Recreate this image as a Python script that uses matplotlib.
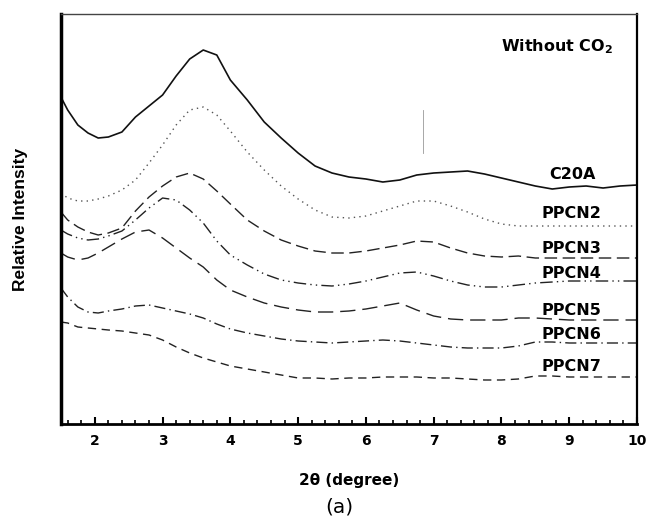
import matplotlib
matplotlib.use("Agg")
import matplotlib.pyplot as plt
from matplotlib.ticker import MultipleLocator

# 2-theta grid shared by all patterns
two_theta = [1.5, 1.6, 1.75, 1.9, 2.05, 2.2, 2.4, 2.6, 2.8, 3.0,
             3.2, 3.4, 3.6, 3.8, 4.0, 4.25, 4.5, 4.75, 5.0, 5.25,
             5.5, 5.75, 6.0, 6.25, 6.5, 6.75, 7.0, 7.25, 7.5, 7.75,
             8.0, 8.25, 8.5, 8.75, 9.0, 9.25, 9.5, 9.75, 10.0]

# stacked intensities (arbitrary units, offset per sample)
c20a = [327, 314, 299, 291, 286, 287, 292, 307, 318, 329,
        348, 365, 374, 369, 344, 324, 302, 286, 271, 258,
        251, 247, 245, 242, 244, 249, 251, 252, 253, 250,
        246, 242, 238, 235, 237, 238, 236, 238, 239]
ppcn2 = [231, 226, 223, 223, 225, 228, 234, 244, 261, 279,
         299, 314, 317, 309, 293, 272, 254, 238, 225, 214,
         207, 206, 208, 213, 218, 223, 223, 218, 212, 205,
         200, 198, 198, 198, 198, 198, 198, 198, 198]
ppcn3 = [212, 204, 197, 192, 189, 191, 196, 213, 227, 238,
         247, 251, 245, 233, 220, 204, 193, 184, 178, 173,
         171, 171, 173, 176, 179, 183, 182, 176, 171, 168,
         167, 168, 166, 166, 166, 166, 166, 166, 166]
ppcn4 = [194, 190, 186, 184, 185, 188, 193, 204, 216, 226,
         224, 214, 201, 183, 169, 159, 150, 144, 141, 139,
         138, 140, 143, 147, 151, 152, 148, 143, 139, 137,
         137, 139, 141, 142, 143, 143, 143, 143, 143]
ppcn5 = [171, 167, 164, 166, 171, 177, 185, 192, 194, 186,
         176, 166, 157, 144, 134, 127, 121, 117, 114, 112,
         112, 113, 115, 118, 121, 114, 108, 105, 104, 104,
         104, 106, 106, 105, 104, 104, 104, 104, 104]
ppcn6 = [136, 127, 117, 112, 111, 113, 115, 118, 119, 116,
         113, 110, 106, 100, 95, 91, 88, 85, 83, 82,
         81, 82, 83, 84, 83, 81, 79, 77, 76, 76,
         76, 78, 82, 82, 81, 81, 81, 81, 81]
ppcn7 = [102, 101, 97, 96, 95, 94, 93, 91, 89, 84,
         77, 71, 66, 62, 58, 55, 52, 49, 46, 46,
         45, 46, 46, 47, 47, 47, 46, 46, 45, 44,
         44, 45, 48, 48, 47, 47, 47, 47, 47]

labels = ["C20A", "PPCN2", "PPCN3", "PPCN4", "PPCN5", "PPCN6", "PPCN7"]
label_y = [250, 211, 176, 151, 114, 89, 57]
series = [c20a, ppcn2, ppcn3, ppcn4, ppcn5, ppcn6, ppcn7]

styles = [
    dict(color="#111111", lw=1.2, ls="-"),
    dict(color="#555555", lw=1.0, ls=(0, (1, 3))),
    dict(color="#222222", lw=1.0, ls=(0, (9, 4))),
    dict(color="#222222", lw=1.0, ls=(0, (9, 3, 1, 3, 1, 3))),
    dict(color="#222222", lw=1.0, ls=(0, (11, 5))),
    dict(color="#222222", lw=1.0, ls=(0, (8, 3, 1, 3))),
    dict(color="#222222", lw=1.0, ls=(0, (6, 4))),
]

fig = plt.figure(figsize=(6.48, 5.29), dpi=100)
ax = fig.add_axes([0.094, 0.1985, 0.889, 0.775])

for ys, st in zip(series, styles):
    ax.plot(two_theta, ys, **st)

for name, yl in zip(labels, label_y):
    x0 = 8.71 if name == "C20A" else 8.59
    ax.text(x0, yl, name, fontsize=11.5, fontweight="bold",
            ha="left", va="center", family="DejaVu Sans")

ax.text(9.64, 377, r"Without CO$_\mathbf{2}$", fontsize=11.5, fontweight="bold",
        ha="right", va="center", family="DejaVu Sans")

# stray mark near 6.85 degrees
ax.plot([6.85, 6.85], [271, 314], color="#999999", lw=0.6)

ax.set_xlim(1.5, 10)
ax.set_ylim(0, 410)
ax.set_yticks([])
ax.xaxis.set_major_locator(MultipleLocator(1))
ax.xaxis.set_minor_locator(MultipleLocator(0.2))
ax.tick_params(axis="x", which="major", direction="in", length=5, width=1.5,
               labelsize=10, pad=7)
ax.tick_params(axis="x", which="minor", direction="in", length=3, width=1.2)
for lab in ax.get_xticklabels():
    lab.set_fontweight("bold")

ax.spines["left"].set_linewidth(2.5)
ax.spines["bottom"].set_linewidth(2.0)
ax.spines["right"].set_linewidth(1.6)
ax.spines["top"].set_linewidth(1.0)
ax.spines["top"].set_color("#444444")

ax.set_xlabel("2\u03b8 (degree)", fontsize=11, fontweight="bold", labelpad=18)
ax.set_ylabel("Relative Intensity", fontsize=12.5, fontweight="bold",
              family="Liberation Sans", labelpad=24)

fig.text(0.524, 0.023, "(a)", fontsize=14.5, ha="center", va="bottom")

fig.savefig("out.png", dpi=100)
